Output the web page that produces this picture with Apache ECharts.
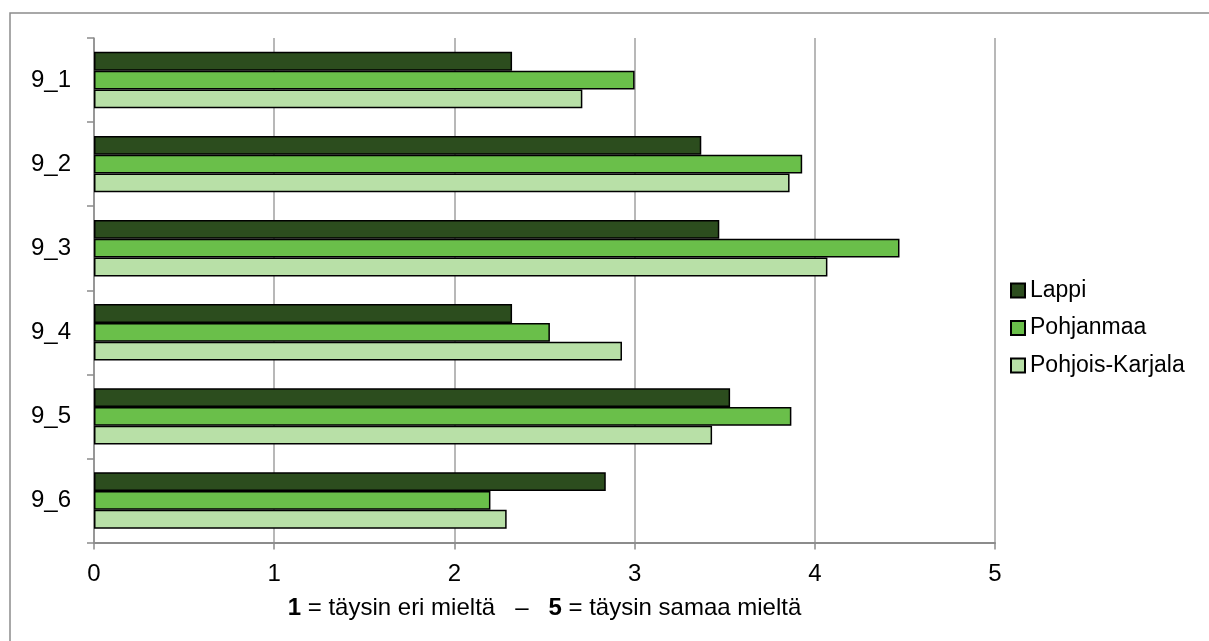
<!DOCTYPE html>
<html>
<head>
<meta charset="utf-8">
<script src="https://cdn.jsdelivr.net/npm/echarts@6/dist/echarts.min.js"></script>
<style>
  html, body { margin: 0; padding: 0; background: #ffffff; }
  #chart { width: 1209px; height: 641px; }
</style>
</head>
<body>
<div id="chart"></div>
<script>
// Survey statements 9_1 … 9_6, mean answers per region on a 1–5 scale
const categories = ['9_1', '9_2', '9_3', '9_4', '9_5', '9_6'];
const lappi          = [2.32, 3.37, 3.47, 2.32, 3.53, 2.84];
const pohjanmaa      = [3.00, 3.93, 4.47, 2.53, 3.87, 2.20];
const pohjoisKarjala = [2.71, 3.86, 4.07, 2.93, 3.43, 2.29];
const xTicks = [0, 1, 2, 3, 4, 5];

const FONT = '"Liberation Sans", Arial, sans-serif';
const GRID_GRAY = '#a0a0a0';
const AXIS_GRAY = '#8c8c8c';

function barSeries(name, data, color) {
  return {
    name: name,
    type: 'bar',
    data: data,
    barGap: '0%',
    barCategoryGap: '33%',
    itemStyle: { color: color, borderColor: '#000000', borderWidth: 1.5 },
    emphasis: { disabled: true }
  };
}

const chart = echarts.init(document.getElementById('chart'), null, { renderer: 'canvas' });

chart.setOption({
  animation: false,
  backgroundColor: '#ffffff',
  textStyle: { fontFamily: FONT, color: '#000000' },
  graphic: [{
    type: 'rect',
    shape: { x: 10, y: 13, width: 1400, height: 800 },
    style: { fill: 'none', stroke: '#8c8c8c', lineWidth: 1.5 },
    silent: true,
    z: 0
  }],
  grid: { left: 94, right: 214, top: 38, bottom: 98.5, containLabel: false },
  legend: {
    orient: 'vertical',
    left: 1010,
    top: 278,
    padding: 0,
    icon: 'rect',
    itemWidth: 14,
    itemHeight: 14,
    itemGap: 12.5,
    textStyle: { fontFamily: FONT, fontSize: 23, color: '#000000', lineHeight: 25 },
    data: ['Lappi', 'Pohjanmaa', 'Pohjois-Karjala']
  },
  xAxis: {
    type: 'value',
    min: 0,
    max: 5,
    interval: 1,
    axisLine: { show: true, lineStyle: { color: AXIS_GRAY, width: 2 } },
    axisTick: { show: true, length: 7, lineStyle: { color: AXIS_GRAY, width: 1.5 } },
    splitLine: { show: true, lineStyle: { color: GRID_GRAY, width: 1.5 } },
    axisLabel: {
      fontFamily: FONT, fontSize: 24, color: '#000000', margin: 20,
      formatter: function (v) { return xTicks.indexOf(v) >= 0 ? String(v) : ''; }
    },
    name: '{b|1} = täysin eri mieltä   –   {b|5} = täysin samaa mieltä',
    nameLocation: 'middle',
    nameGap: 54,
    nameTextStyle: {
      fontFamily: FONT, fontSize: 24, color: '#000000',
      rich: { b: { fontFamily: FONT, fontSize: 24, fontWeight: 'bold', color: '#000000' } }
    }
  },
  yAxis: {
    type: 'category',
    data: categories,
    inverse: true,
    axisLine: { show: true, lineStyle: { color: AXIS_GRAY, width: 1.5 } },
    axisTick: { show: true, length: 7, alignWithLabel: false, lineStyle: { color: AXIS_GRAY, width: 1.5 } },
    axisLabel: { fontFamily: FONT, fontSize: 24, color: '#000000', margin: 23 },
    splitLine: { show: false }
  },
  series: [
    barSeries('Lappi', lappi, '#2c4d1e'),
    barSeries('Pohjanmaa', pohjanmaa, '#6abf4a'),
    barSeries('Pohjois-Karjala', pohjoisKarjala, '#b8e0a7')
  ]
});
</script>
</body>
</html>
